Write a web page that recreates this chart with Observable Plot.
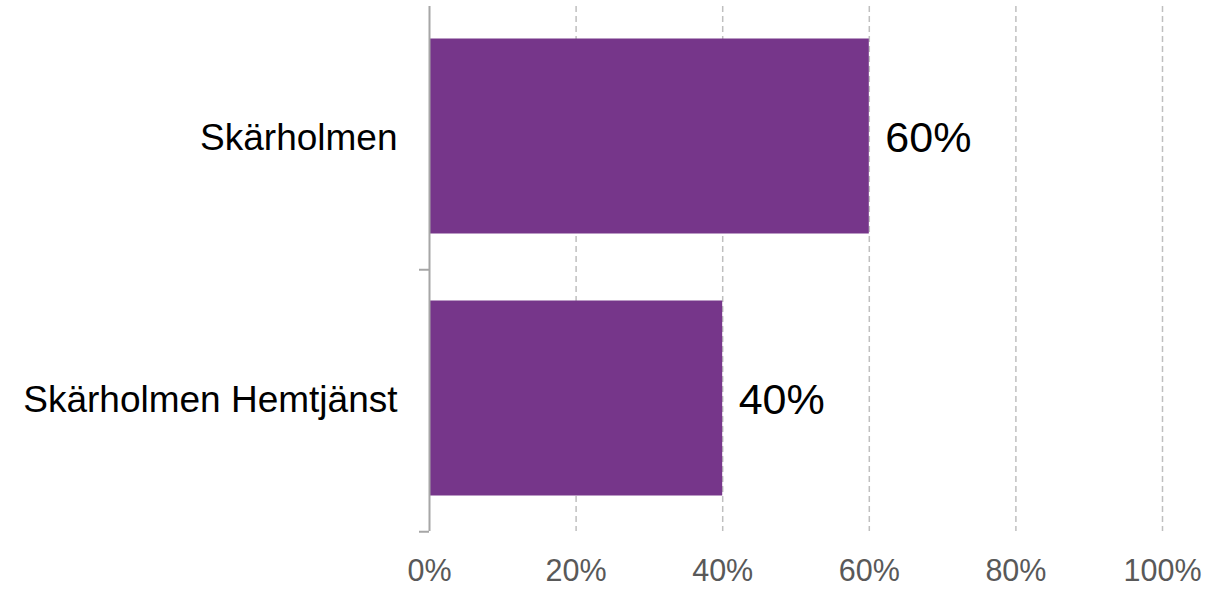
<!DOCTYPE html>
<html><head><meta charset="utf-8">
<script src="https://cdn.jsdelivr.net/npm/d3@7"></script>
<script src="https://cdn.jsdelivr.net/npm/@observablehq/plot@0.6"></script>
<style>body{margin:0;background:#fff}</style>
</head><body><div id="chart"></div>
<script>
const categories = ["Skärholmen", "Skärholmen Hemtjänst"];
const values = [0.60, 0.40];
const xTicks = [0, 0.2, 0.4, 0.6, 0.8, 1.0];
const data = categories.map((c, i) => ({category: c, value: values[i]}));
const W = 1222, H = 590, mt = 6, mb = 59, ml = 429, mr = 60;
const step = (H - mt - mb) / categories.length;
const pct = d3.format(".0%");
const chart = Plot.plot({
  width: W, height: H, marginTop: mt, marginBottom: mb, marginLeft: ml, marginRight: mr,
  style: {fontFamily: "'Liberation Sans', Arial, sans-serif", background: "#fff"},
  x: {domain: [0, 1], label: null},
  y: {domain: categories, padding: 0, label: null},
  marks: [
    Plot.gridX(xTicks.slice(1), {stroke: "#bfbfbf", strokeOpacity: 1, strokeWidth: 1.5, strokeDasharray: "6,4"}),
    Plot.barX(data, {x: "value", y: "category", fill: "#76368a", insetTop: 31.5, insetBottom: 35.5}),
    Plot.ruleX([0], {stroke: "#a6a6a6", strokeWidth: 2}),
    Plot.axisY({tickSize: 10, stroke: "#a6a6a6", strokeWidth: 2, dy: step / 2, tickFormat: () => "", label: null}),
    Plot.axisY({tickSize: 0, tickPadding: 32, fontSize: 37, fill: "#000", label: null}),
    Plot.axisX(xTicks, {tickSize: 0, tickPadding: 28, fontSize: 30.5, fill: "#595959", tickFormat: pct, label: null}),
    Plot.text(data, {x: "value", y: "category", text: d => pct(d.value), dx: 16, textAnchor: "start", fontSize: 43, fill: "#000"})
  ]
});
document.getElementById("chart").appendChild(chart);
</script>
</body></html>
